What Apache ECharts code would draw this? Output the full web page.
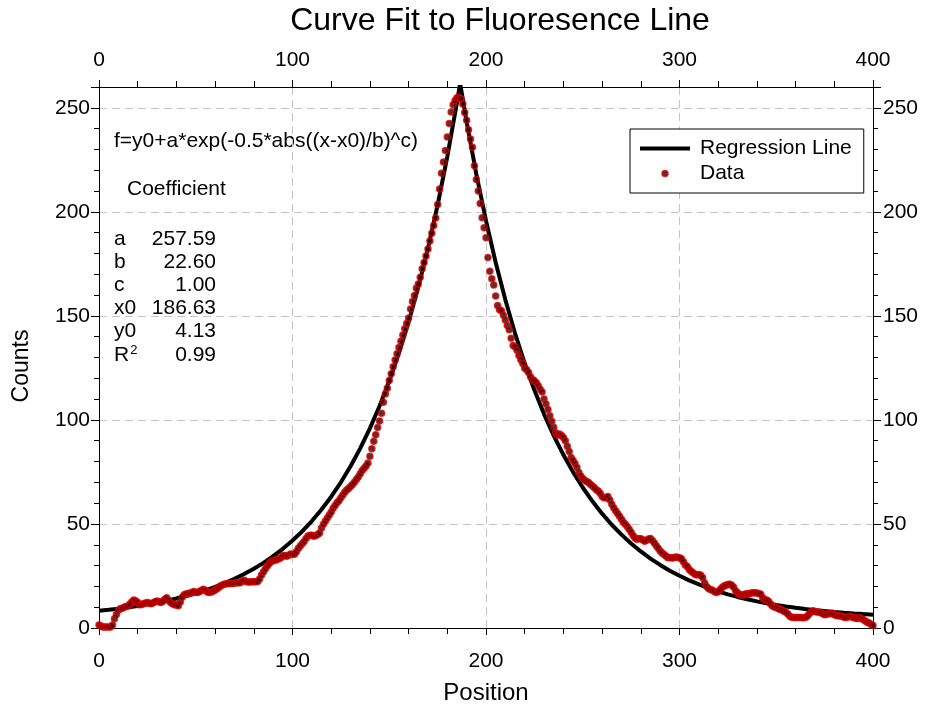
<!DOCTYPE html>
<html>
<head>
<meta charset="utf-8">
<script src="https://cdn.jsdelivr.net/npm/echarts@6/dist/echarts.min.js"></script>
<style>
html,body{margin:0;padding:0;background:#fff;}
#chart{width:927px;height:708px;}
</style>
</head>
<body>
<div id="chart"></div>
<script>
// ---- data ----
const chartTitle = 'Curve Fit to Fluoresence Line';
const xAxisTitle = 'Position';
const yAxisTitle = 'Counts';
const xTickValues = [0, 100, 200, 300, 400];
const yTickValues = [0, 50, 100, 150, 200, 250];
// measured counts at positions 0,1,2,...,400
const positionStart = 0;
const positionStep = 1;
const counts = [
  1.5,1,0.5,0.5,0.5,0.5,0.5,1.5,4.5,6.5,8.5,9.2,9.5,10,10.3,10.6,11.5,12.6,13.4,13,
  12.2,11.2,11.3,11.7,12,12.2,11.9,11.7,12.1,12.6,13,12.6,12.3,12.8,13.8,14.5,13.2,12.2,11.6,11.2,
  11,10.7,12.5,14.8,16,16.3,16.6,16.7,17.1,17.5,17.2,17.1,17.6,18.2,18.6,18,17.3,17.1,17.3,17.7,
  18.3,18.9,19.6,20.3,20.8,21.1,21.3,21.4,21.4,21.4,21.5,21.7,21.7,21.7,22.5,22.9,22.4,22.1,22.1,22.2,
  22.2,22.2,22.4,23.5,25.5,27,28.5,29.8,31,31.9,32.3,32.6,32.9,33.3,33.8,34.7,34.8,34.5,35,35.6,
  35.5,35.5,36.7,38.2,39.4,40.5,41.6,43,44.2,44.6,44.6,44.1,44.4,44.9,45.6,48,49.9,51.4,52.9,54.3,
  55.8,57.5,58.9,60.2,61.1,62.6,63.9,65.2,66.3,67,68,69,70.1,71.4,72.6,74.1,75.7,76.8,77.9,79.3,
  82.5,86.2,89.8,92.9,96.4,99.5,103.2,108.5,112.5,115.2,119,122.2,125.5,128.8,131.8,134.8,137.8,140.8,143.8,146.4,
  149,153.3,156.9,159.8,163.3,165.3,168.6,172.7,175.7,178.8,182.2,186,189.7,193.4,197,203.5,211,218.5,224,229.5,
  236,242.5,248,251.5,253.5,254.8,255,254.4,251.8,247.8,244,239.5,235,231,222.2,215.5,210,204,197.2,192.3,
  187.6,178,171.5,167.8,164.8,159.5,155,153,152.5,150.3,148,145.4,143.3,139.2,135.8,135.2,133.5,131,128.9,127.1,
  124.8,124.1,122.8,120.7,119.4,118.8,117.9,116.4,114.8,113.4,110,107.7,105,102,99.4,96.5,93.8,92.6,93.2,92.5,
  91.6,90,87.3,84.8,81.9,80.5,79,77.1,74.7,73.1,71.8,71,70.4,69.9,69,68.2,67.4,66.5,65.8,64.7,
  63.2,62.6,62.6,63.2,61.5,59.5,57.8,56.4,55,53.7,52.3,50.8,49.9,48.8,47.4,46,44.4,43.2,42.6,43,
  42.9,42.4,41.7,42.2,42.8,43,42.1,40.9,39.5,38.3,37,36,35.3,34.6,33.8,33.9,33.7,33.8,34.1,34,
  33.8,33.3,31.8,30.3,29.5,28.1,27.3,26.6,25.8,25.5,25.7,25.3,24.2,21.6,19.9,19,18.5,18.1,17.5,17.1,
  17.4,18.5,19.5,20.2,20.5,20.9,21,20.6,19.6,17.9,16.9,16.1,15.9,15.9,16.4,16.5,16.4,16.8,17,17,
  16.8,16.6,16.2,14.5,13.6,13.5,12.9,11.6,10.6,10.1,9.8,9.4,8.9,8.6,8.1,7.6,6.7,5.7,5.2,5.1,
  5.1,5.1,5.1,5.1,4.9,5,5.6,6.7,7.7,8.3,7.9,7.7,7.6,7.4,6.8,6.4,6.6,6.8,6.9,7.1,
  6.4,6,5.9,5.8,5.6,5.2,5.1,5.3,5.6,5.3,5.1,4.7,4.6,5,4.5,4.1,3.4,2.8,2.4,1.7,1.2
];
// regression line values read at these positions
const fitX = [0,5,10,15,20,25,30,35,40,45,50,55,60,65,70,75,80,85,90,95,100,105,110,115,120,125,130,135,140,145,150,155,160,165,170,175,180,185,186.63,
  190,195,200,205,210,215,220,225,230,235,240,245,250,255,260,265,270,275,280,285,290,295,300,305,310,315,320,325,330,335,340,345,350,355,360,365,370,375,380,385,390,395,400];
const fitY = [8.28,8.76,9.30,9.91,10.59,11.35,12.19,13.13,14.18,15.35,16.66,18.13,19.77,21.60,23.64,25.92,28.47,31.32,34.50,38.05,42.02,46.45,51.40,56.93,63.11,70.01,77.72,86.33,95.94,106.68,118.68,132.07,147.04,163.76,182.43,203.29,226.58,252.60,261.72,
  243.21,218.17,195.76,175.69,157.72,141.64,127.24,114.35,102.81,92.48,83.23,74.94,67.53,60.89,54.95,49.63,44.87,40.60,36.78,33.36,30.30,27.56,25.11,22.91,20.94,19.18,17.60,16.19,14.93,13.80,12.79,11.88,11.07,10.34,9.69,9.11,8.59,8.12,7.70,7.33,6.99,6.69,6.42];
const coefNames = ['a', 'b', 'c', 'x0', 'y0', 'R'];
const coefValues = ['257.59', '22.60', '1.00', '186.63', '4.13', '0.99'];
const formulaText = 'f=y0+a*exp(-0.5*abs((x-x0)/b)^c)';
const coefHeader = 'Coefficient';
const seriesNames = ['Regression Line', 'Data'];

// ---- chart ----
const FONT = 'Liberation Sans, Arial, sans-serif';
const chart = echarts.init(document.getElementById('chart'), null, {renderer: 'canvas'});
const scatterData = counts.map((v, i) => [positionStart + i * positionStep, v]);
const lineData = fitX.map((x, i) => [x, fitY[i]]);

const gridDash = {color: '#c4c4c4', type: [8, 5], width: 1};
function xAxisCfg(pos, margin) {
  return {
    type: 'value', position: pos, min: xTickValues[0], max: xTickValues[xTickValues.length - 1], interval: 100,
    axisLine: {show: true, onZero: false, lineStyle: {color: '#000', width: 1}},
    axisTick: {show: true, inside: false, length: 7, lineStyle: {color: '#000'}},
    minorTick: {show: true, splitNumber: 5, length: 6, lineStyle: {color: '#000'}},
    axisLabel: {show: true, margin: margin, fontSize: 21, color: '#000', fontFamily: FONT},
    splitLine: {show: pos === 'bottom', lineStyle: gridDash},
    minorSplitLine: {show: false}
  };
}
function yAxisCfg(pos, margin) {
  return {
    type: 'value', position: pos, min: 0, max: 260, interval: 50,
    axisLine: {show: true, onZero: false, lineStyle: {color: '#000', width: 1}},
    axisTick: {show: true, inside: false, length: 8, lineStyle: {color: '#000'}},
    minorTick: {show: true, splitNumber: 5, length: 5, lineStyle: {color: '#000'}},
    axisLabel: {show: true, margin: margin, fontSize: 21, color: '#000', fontFamily: FONT,
      formatter: v => (yTickValues.indexOf(v) >= 0 ? String(v) : '')},
    splitLine: {show: pos === 'left', lineStyle: gridDash},
    minorSplitLine: {show: false}
  };
}

const F21 = '21px ' + FONT;
const graphics = [];
graphics.push({type: 'text', x: 500, y: 21, style: {text: chartTitle, font: '32px ' + FONT, fill: '#000', align: 'center', verticalAlign: 'middle'}});
graphics.push({type: 'text', x: 22, y: 366, rotation: Math.PI / 2, style: {text: yAxisTitle, font: '23px ' + FONT, fill: '#000', align: 'center', verticalAlign: 'middle'}});
graphics.push({type: 'text', x: 114, y: 141, style: {text: formulaText, font: F21, fill: '#000', verticalAlign: 'middle'}});
graphics.push({type: 'text', x: 127, y: 189, style: {text: coefHeader, font: F21, fill: '#000', verticalAlign: 'middle'}});
const rowY = [239, 262, 285, 308, 331, 355];
coefNames.forEach((n, i) => {
  if (n === 'R') {
    graphics.push({type: 'text', x: 114, y: rowY[i], style: {
      text: '{m|R}{s|2}', verticalAlign: 'middle',
      rich: {m: {font: F21, fill: '#000'}, s: {font: '13px ' + FONT, fill: '#000', verticalAlign: 'top', padding: [0, 0, 10, 1]}}
    }});
  } else {
    graphics.push({type: 'text', x: 114, y: rowY[i], style: {text: n, font: F21, fill: '#000', verticalAlign: 'middle'}});
  }
  graphics.push({type: 'text', x: 216, y: rowY[i], style: {text: coefValues[i], font: F21, fill: '#000', align: 'right', verticalAlign: 'middle'}});
});

const option = {
  backgroundColor: '#fff',
  animation: false,
  grid: {left: 99, right: 54, top: 87, bottom: 80, containLabel: false, outerBoundsMode: 'none'},
  xAxis: [
    Object.assign(xAxisCfg('bottom', 23), {name: xAxisTitle, nameLocation: 'middle', nameGap: 53,
      nameTextStyle: {fontSize: 24, color: '#000', fontFamily: FONT}}),
    xAxisCfg('top', 16)
  ],
  yAxis: [yAxisCfg('left', 9), yAxisCfg('right', 10)],
  legend: {
    show: true, left: 630, top: 129, orient: 'vertical',
    padding: [9, 12, 9, 10], itemGap: 4, itemWidth: 50, itemHeight: 6,
    borderColor: '#000', borderWidth: 1, backgroundColor: '#fff', borderRadius: 0,
    textStyle: {fontSize: 21, color: '#000', fontFamily: FONT, padding: [0, 0, 0, 5]},
    data: [
      {name: seriesNames[0], icon: 'path://M0,0 L50,0 L50,4 L0,4 Z', itemStyle: {color: '#000'}},
      {name: seriesNames[1], icon: 'circle', itemStyle: {color: '#300000', borderColor: '#dd0000', borderWidth: 1.5}}
    ]
  },
  graphic: graphics,
  series: [
    {
      name: seriesNames[0], type: 'line', xAxisIndex: 0, yAxisIndex: 0,
      data: lineData, showSymbol: false, symbol: 'none', smooth: false,
      lineStyle: {color: '#000', width: 4}, itemStyle: {color: '#000'}, z: 2
    },
    {
      name: seriesNames[1], type: 'scatter', xAxisIndex: 0, yAxisIndex: 0,
      data: scatterData, symbol: 'circle', symbolSize: 6,
      itemStyle: {color: '#300000', borderColor: '#dd0000', borderWidth: 1.5}, z: 3
    }
  ]
};
chart.setOption(option);
</script>
</body>
</html>
